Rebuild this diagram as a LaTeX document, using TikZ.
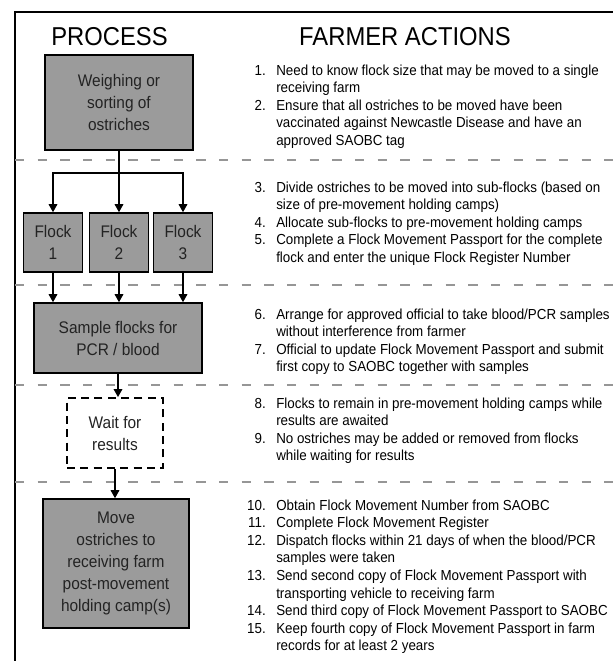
\documentclass[tikz,border=0pt]{standalone}
\usepackage{fontspec}
\setmainfont[FakeStretch=0.92]{Liberation Sans}
\usetikzlibrary{arrows.meta}
\definecolor{boxgray}{RGB}{155,155,155}
\definecolor{boxtext}{RGB}{35,35,35}
\definecolor{sepgray}{RGB}{150,150,150}
\newcommand\itemfont{\fontsize{10.9}{13.2}\selectfont}
\newcommand\boxfont{\fontsize{12.6}{16.5}\selectfont}
\newcommand\headfont{\fontsize{19.4}{20}\selectfont}
\def\pxu{0.75pt}
\tikzset{
  procbox/.style={draw=black, line width=1.2pt, fill=boxgray, text=boxtext, align=center, inner sep=0pt, font=\boxfont},
  waitbox/.style={draw=black, line width=1.4pt, dash pattern=on 6pt off 4pt, fill=white, text=boxtext, align=center, inner sep=0pt, font=\boxfont},
  flow/.style={line width=0.9pt, -{Triangle[length=6pt,width=6.5pt]}},
  plain/.style={line width=0.9pt},
  sep/.style={draw=sepgray, line width=1.5pt, dash pattern=on 7pt off 10pt},
  num/.style={anchor=base east, inner sep=0pt, font=\itemfont},
  itm/.style={anchor=base west, inner sep=0pt, align=left, font=\itemfont},
  head/.style={font=\headfont, inner sep=0pt, anchor=base},
  frame/.style={line width=1.5pt, draw=black}
}
\begin{document}
\begin{tikzpicture}[x=0.75pt, y=-0.75pt]
\useasboundingbox (0,0) rectangle (613,661);
% frame
\coordinate (fa) at (613,12);
\coordinate (fb) at (15,12);
\coordinate (fc) at (15,661);
\draw[frame] (fa) -- (fb) -- (fc);
% separators
\foreach \yy/\nm in {160/s1, 285/s2, 385/s3, 482/s4} {
  \coordinate (\nm a) at (15,\yy);
  \coordinate (\nm b) at (613,\yy);
  \draw[sep] (\nm a) -- (\nm b);
}
% headings
\node[head] (hproc) at (109.5,45) {PROCESS};
\node[head] (hfarm) at (405,45) {FARMER ACTIONS};
% process boxes
\node[procbox, minimum width=148*\pxu, minimum height=95*\pxu] (weigh) at (119,102.5) {Weighing or\\sorting of\\ostriches};
\node[procbox, minimum width=59*\pxu, minimum height=59*\pxu] (f1) at (53,242.5) {Flock\\1};
\node[procbox, minimum width=59*\pxu, minimum height=59*\pxu] (f2) at (119,242.5) {Flock\\2};
\node[procbox, minimum width=59*\pxu, minimum height=59*\pxu] (f3) at (183,242.5) {Flock\\3};
\node[procbox, minimum width=168*\pxu, minimum height=70*\pxu] (sample) at (118,338) {Sample flocks for\\PCR / blood};
\node[waitbox, minimum width=96*\pxu, minimum height=70*\pxu] (wait) at (115,433) {Wait for\\results};
\node[procbox, minimum width=146*\pxu, minimum height=129*\pxu] (move) at (116,563.5) {Move\\ostriches to\\receiving farm\\post-movement\\holding camp(s)};
% connectors
\coordinate (split) at (119,173);
\draw[plain] (weigh.south) -- (split);
\draw[flow] (split) -| (f1.north);
\draw[flow] (split) -- (f2.north);
\draw[flow] (split) -| (f3.north);
\draw[flow] (f1.south) -- (f1.south |- sample.north);
\draw[flow] (f2.south) -- (f2.south |- sample.north);
\draw[flow] (f3.south) -- (f3.south |- sample.north);
\draw[flow] (sample.south) -- (sample.south |- wait.north);
\draw[flow] (wait.south) -- (wait.south |- move.north);
% farmer actions (text nodes anchored on their last line's baseline)
\node[num] (n1) at (266,75) {1.};
\node[itm] (t1) at (276,92.6) {Need to know flock size that may be moved to a single\\receiving farm};
\node[num] (n2) at (266,110.2) {2.};
\node[itm] (t2) at (276,145.4) {Ensure that all ostriches to be moved have been\\vaccinated against Newcastle Disease and have an\\approved SAOBC tag};
\node[num] (n3) at (266,192) {3.};
\node[itm] (t3) at (276,209.6) {Divide ostriches to be moved into sub-flocks (based on\\size of pre-movement holding camps)};
\node[num] (n4) at (266,227.2) {4.};
\node[itm] (t4) at (276,227.2) {Allocate sub-flocks to pre-movement holding camps};
\node[num] (n5) at (266,244.8) {5.};
\node[itm] (t5) at (276,262.4) {Complete a Flock Movement Passport for the complete\\flock and enter the unique Flock Register Number};
\node[num] (n6) at (266,319) {6.};
\node[itm] (t6) at (276,336.6) {Arrange for approved official to take blood/PCR samples\\without interference from farmer};
\node[num] (n7) at (266,354.2) {7.};
\node[itm] (t7) at (276,371.8) {Official to update Flock Movement Passport and submit\\first copy to SAOBC together with samples};
\node[num] (n8) at (266,408) {8.};
\node[itm] (t8) at (276,425.6) {Flocks to remain in pre-movement holding camps while\\results are awaited};
\node[num] (n9) at (266,443.2) {9.};
\node[itm] (t9) at (276,460.8) {No ostriches may be added or removed from flocks\\while waiting for results};
\node[num] (n10) at (266,510) {10.};
\node[itm] (t10) at (276,510) {Obtain Flock Movement Number from SAOBC};
\node[num] (n11) at (266,527.6) {11.};
\node[itm] (t11) at (276,527.6) {Complete Flock Movement Register};
\node[num] (n12) at (266,545.2) {12.};
\node[itm] (t12) at (276,562.8) {Dispatch flocks within 21 days of when the blood/PCR\\samples were taken};
\node[num] (n13) at (266,580.4) {13.};
\node[itm] (t13) at (276,598) {Send second copy of Flock Movement Passport with\\transporting vehicle to receiving farm};
\node[num] (n14) at (266,615.6) {14.};
\node[itm] (t14) at (276,615.6) {Send third copy of Flock Movement Passport to SAOBC};
\node[num] (n15) at (266,633.2) {15.};
\node[itm] (t15) at (276,650.8) {Keep fourth copy of Flock Movement Passport in farm\\records for at least 2 years};
\end{tikzpicture}
\end{document}
